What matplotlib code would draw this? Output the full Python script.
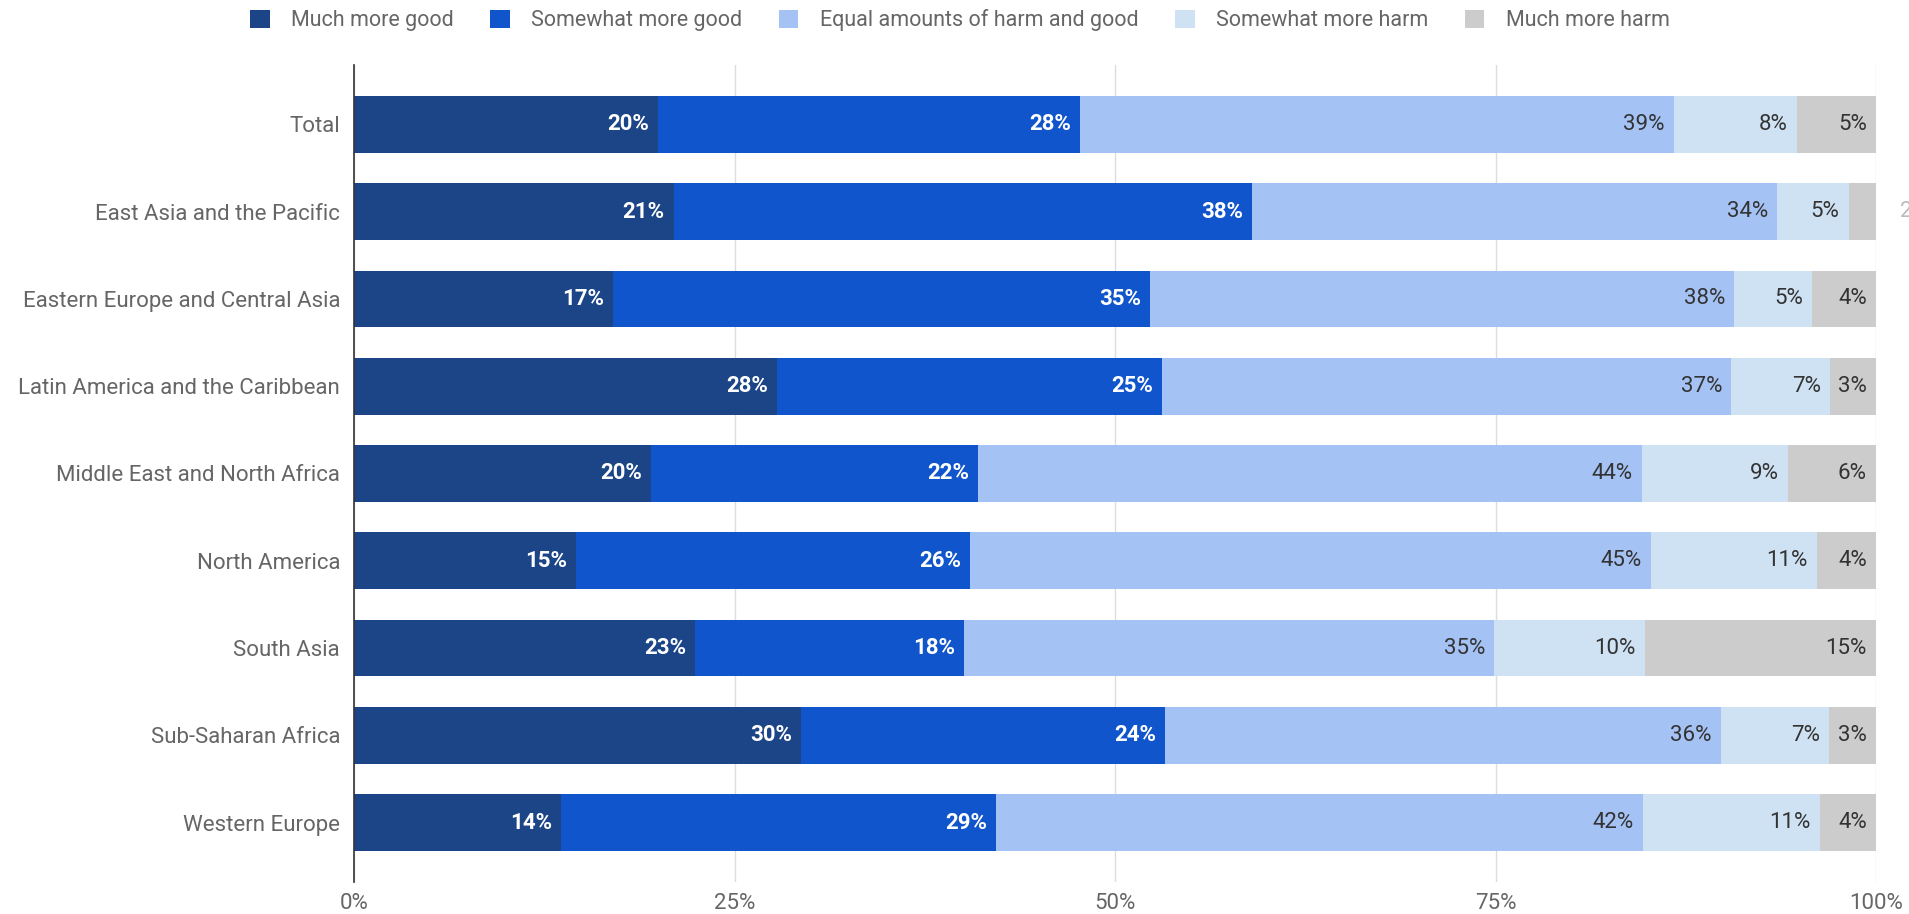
import matplotlib
matplotlib.use('Agg')
import matplotlib.pyplot as plt
import numpy as np

plt.rcParams['font.family'] = ['Roboto', 'DejaVu Sans']

regions = ['Total', 'East Asia and the Pacific', 'Eastern Europe and Central Asia',
           'Latin America and the Caribbean', 'Middle East and North Africa',
           'North America', 'South Asia', 'Sub-Saharan Africa', 'Western Europe']

series = ['Much more good', 'Somewhat more good', 'Equal amounts of harm and good',
          'Somewhat more harm', 'Much more harm']

# segment widths (share of respondents, %)
much_good = [20.0, 21.0, 17.0, 27.8, 19.5, 14.6, 22.4, 29.4, 13.6]
some_good = [27.7, 38.0, 35.3, 25.3, 21.5, 25.9, 17.7, 23.9, 28.6]
equal = [39.0, 34.5, 38.4, 37.4, 43.6, 44.7, 34.8, 36.5, 42.5]
some_harm = [8.1, 4.7, 5.1, 6.5, 9.6, 10.9, 9.9, 7.1, 11.6]
much_harm = [5.2, 1.8, 4.2, 3.0, 5.8, 3.9, 15.2, 3.1, 3.7]

# printed labels
lab_much_good = [20, 21, 17, 28, 20, 15, 23, 30, 14]
lab_some_good = [28, 38, 35, 25, 22, 26, 18, 24, 29]
lab_equal = [39, 34, 38, 37, 44, 45, 35, 36, 42]
lab_some_harm = [8, 5, 5, 7, 9, 11, 10, 7, 11]
lab_much_harm = [5, 2, 4, 3, 6, 4, 15, 3, 4]

colors = ['#1c4587', '#1155cc', '#a4c2f4', '#cfe2f3', '#cccccc']
text_colors = ['white', 'white', '#333333', '#333333', '#333333']
weights = ['bold', 'bold', 'normal', 'normal', 'normal']

values = [much_good, some_good, equal, some_harm, much_harm]
labels = [lab_much_good, lab_some_good, lab_equal, lab_some_harm, lab_much_harm]

fig = plt.figure(figsize=(19.09, 9.14), dpi=100)
ax = fig.add_axes([354 / 1909, 1 - 882 / 914, (1876 - 354) / 1909, (882 - 65) / 914])

y = np.arange(len(regions))
left = np.zeros(len(regions))
for k in range(len(series)):
    v = np.array(values[k])
    ax.barh(y, v, left=left, height=0.65, color=colors[k], label=series[k], zorder=2)
    for i in range(len(regions)):
        end = left[i] + v[i]
        if v[i] < 3:
            # too narrow: label goes past the end of the bar (cut by the edge)
            ax.annotate(f'{labels[k][i]}%', xy=(100, y[i]), xytext=(24, 0),
                        textcoords='offset pixels', ha='left', va='center',
                        fontsize=16, color='#bbbbbb', annotation_clip=False)
        else:
            ax.annotate(f'{labels[k][i]}%', xy=(end, y[i]), xytext=(-9, 0),
                        textcoords='offset pixels', ha='right', va='center',
                        fontsize=16, color=text_colors[k], fontweight=weights[k])
    left = left + v

ax.set_xlim(0, 100)
ax.set_ylim(8.68, -0.68)
ax.set_yticks(y)
ax.set_yticklabels(regions, fontsize=16, color='#666666')
ax.set_xticks([0, 25, 50, 75, 100])
ax.set_xticklabels(['0%', '25%', '50%', '75%', '100%'], fontsize=16, color='#666666')
ax.tick_params(axis='both', length=0)
ax.tick_params(axis='y', pad=10)
ax.tick_params(axis='x', pad=8)
ax.grid(axis='x', color='#dddddd', linewidth=1, zorder=0)
ax.set_axisbelow(True)
for s in ['top', 'right', 'bottom']:
    ax.spines[s].set_visible(False)
ax.spines['left'].set_color('#333333')
ax.spines['left'].set_linewidth(1.2)
ax.spines['left'].set_zorder(3)

fig.legend(loc='center', bbox_to_anchor=(960 / 1909, 1 - 20 / 914), ncol=5,
           frameon=False, fontsize=15.5, handlelength=0.9, handleheight=0.9,
           handletextpad=1.0, columnspacing=1.7, labelcolor='#666666')

plt.savefig('out.png', dpi=100)
